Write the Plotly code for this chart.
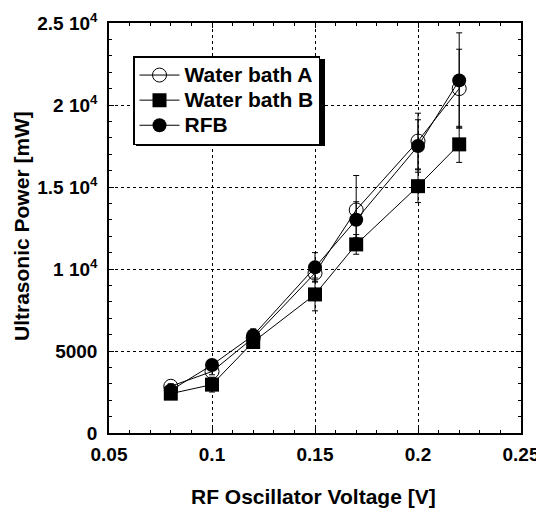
import plotly.graph_objects as go

voltage = [0.08, 0.1, 0.12, 0.15, 0.17, 0.2, 0.22]
bath_a = [2850, 3750, 5800, 9750, 13600, 17800, 21000]
bath_a_err = [150, 200, 300, 500, 2100, 1700, 2400]
bath_b = [2400, 2950, 5550, 8450, 11500, 15050, 17600]
bath_b_err = [150, 450, 300, 1000, 600, 1000, 1100]
rfb = [2600, 4150, 5950, 10100, 13000, 17500, 21500]
rfb_err = [150, 200, 400, 900, 1100, 1600, 2900]

y_tickvals = [0, 5000, 10000, 15000, 20000, 25000]
y_ticktext = ["0", "5000", "1 10<sup>4</sup>", "1.5 10<sup>4</sup>", "2 10<sup>4</sup>", "2.5 10<sup>4</sup>"]
x_tickvals = [0.05, 0.1, 0.15, 0.2, 0.25]
x_ticktext = ["0.05", "0.1", "0.15", "0.2", "0.25"]
legend_names = ["Water bath A", "Water bath B", "RFB"]
x_title = "RF Oscillator Voltage [V]"
y_title = "Ultrasonic Power [mW]"

FONT = "Liberation Sans, Arial, sans-serif"

# page has an 8px body margin; figure sized so plot area lands at x 109..521, y 23..433
W, H = 536, 505
ML, MR, MT, MB = 101, 23, 15, 80
PW = W - ML - MR
PH = H - MT - MB

def err(arr):
    return dict(type="data", array=arr, visible=True, color="black", thickness=1, width=3)

def lname(s):
    return "<span style='font-size:21px'>" + s + "</span>"

fig = go.Figure()
fig.add_trace(go.Scatter(x=voltage, y=bath_a, name=lname(legend_names[0]), mode="lines+markers",
                         line=dict(color="black", width=1),
                         marker=dict(symbol="circle-open", size=14, color="black", line=dict(width=1)),
                         error_y=err(bath_a_err)))
fig.add_trace(go.Scatter(x=voltage, y=bath_b, name=lname(legend_names[1]), mode="lines+markers",
                         line=dict(color="black", width=1),
                         marker=dict(symbol="square", size=14, color="black"),
                         error_y=err(bath_b_err)))
fig.add_trace(go.Scatter(x=voltage, y=rfb, name=lname(legend_names[2]), mode="lines+markers",
                         line=dict(color="black", width=1),
                         marker=dict(symbol="circle", size=14, color="black"),
                         error_y=err(rfb_err)))

axis_common = dict(showline=True, linecolor="black", linewidth=1.5, mirror="ticks",
                   showgrid=True, gridcolor="black", griddash="dot", gridwidth=1,
                   ticks="inside", ticklen=5, tickcolor="black", zeroline=False,
                   automargin=False,
                   tickfont=dict(family=FONT, size=19, color="black", weight="bold"),
                   minor=dict(ticks="inside", ticklen=3, tickcolor="black", nticks=5, showgrid=False))

fig.update_xaxes(range=[0.05, 0.25], tickvals=x_tickvals, ticktext=x_ticktext, ticklabelstandoff=3,
                 **axis_common)
fig.update_yaxes(range=[0, 25000], tickvals=y_tickvals, ticktext=y_ticktext, ticklabelstandoff=6,
                 **axis_common)

title_font = dict(family=FONT, size=21, color="black", weight="bold")
fig.add_annotation(text=x_title, xref="paper", yref="paper", x=(313 - 109) / PW, y=(433 - 497) / PH,
                   xanchor="center", yanchor="middle", showarrow=False, font=title_font)
fig.add_annotation(text=y_title, xref="paper", yref="paper", x=(21 - 109) / PW, y=(433 - 226) / PH,
                   xanchor="center", yanchor="middle", textangle=-90, showarrow=False, font=title_font)

# legend box (in page px): left 133, top 56, approx width 189, height 87 -> drop shadow offset 3px
LX, LY, LWID, LHGT = 133, 56, 189, 87
fig.add_shape(type="rect", xref="paper", yref="paper", layer="above",
              x0=(LX + 3 - 109) / PW, x1=(LX + LWID + 3 - 109) / PW,
              y0=(433 - (LY + LHGT + 3)) / PH, y1=(433 - (LY + 3)) / PH,
              fillcolor="black", line=dict(width=0))

fig.update_layout(
    width=W, height=H,
    margin=dict(l=ML, r=MR, t=MT, b=MB),
    plot_bgcolor="white", paper_bgcolor="white",
    showlegend=True,
    legend=dict(x=(LX - 109) / PW, y=(433 - LY) / PH, xanchor="left", yanchor="top",
                bgcolor="white", bordercolor="black", borderwidth=1.5,
                font=dict(family=FONT, size=17, color="black", weight="bold"),
                itemwidth=40, tracegroupgap=0),
)

fig.write_html("out.html")
